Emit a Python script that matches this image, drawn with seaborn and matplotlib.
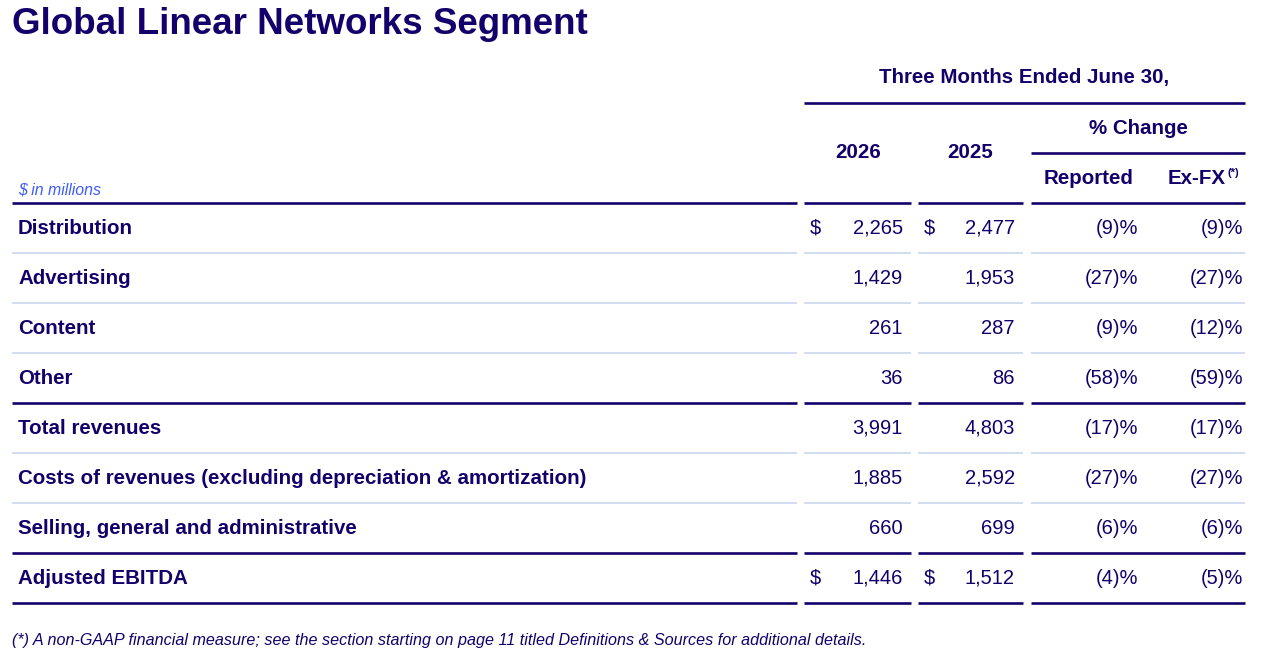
import matplotlib
matplotlib.use("Agg")
import matplotlib.pyplot as plt
import seaborn as sns

sns.set_theme(style="white")
plt.rcParams['font.family'] = ['Liberation Sans', 'DejaVu Sans']

# ---- data ----
title = "Global Linear Networks Segment"
period_header = "Three Months Ended June 30,"
years = ["2026", "2025"]
change_header = "% Change"
change_cols = ["Reported", "Ex-FX"]
units_note = "$ in millions"
row_labels = ["Distribution", "Advertising", "Content", "Other", "Total revenues",
              "Costs of revenues (excluding depreciation & amortization)",
              "Selling, general and administrative", "Adjusted EBITDA"]
values_2026 = [2265, 1429, 261, 36, 3991, 1885, 660, 1446]
values_2025 = [2477, 1953, 287, 86, 4803, 2592, 699, 1512]
reported_pct = [-9, -27, -9, -58, -17, -27, -6, -4]
exfx_pct = [-9, -27, -12, -59, -17, -27, -6, -5]
dollar_rows = [0, 7]
separator_kind = ["light", "light", "light", "dark", "light", "light", "dark", "dark"]
footnote = ("(*) A non-GAAP financial measure; see the section starting on page 11 "
            "titled Definitions & Sources for additional details.")

NAVY = "#13006b"
LIGHT = "#c9d8ec"
BLUE = "#3d5cff"

fig = plt.figure(figsize=(12.62, 6.55), dpi=100)
ax = fig.add_axes([0, 0, 1, 1])
ax.set_xlim(0, 1262)
ax.set_ylim(655, 0)
ax.axis("off")

col_spans = [(12, 797), (804, 911), (918, 1023), (1031, 1245)]

def hline(y, x0, x1, kind):
    if kind == "dark":
        ax.plot([x0, x1], [y, y], color=NAVY, lw=1.9, solid_capstyle="butt")
    else:
        ax.plot([x0, x1], [y, y], color=LIGHT, lw=1.2, solid_capstyle="butt")

FS = 14.8
NFS = 14.5
# title
ax.text(12, 24, title, fontsize=26.5, fontweight="bold", color=NAVY, va="center", ha="left")

# headers
ax.text(1024, 78, period_header, fontsize=FS, fontweight="bold", color=NAVY, ha="center", va="center")
hline(103, 804, 1245, "dark")
ax.text(858, 153, years[0], fontsize=FS, fontweight="bold", color=NAVY, ha="center", va="center")
ax.text(970, 153, years[1], fontsize=FS, fontweight="bold", color=NAVY, ha="center", va="center")
ax.text(1138, 128, change_header, fontsize=FS, fontweight="bold", color=NAVY, ha="center", va="center")
hline(153, 1031, 1245, "dark")
ax.text(1089, 178, change_cols[0], fontsize=FS, fontweight="bold", color=NAVY, ha="center", va="center")
ax.text(1226, 178, change_cols[1], fontsize=FS, fontweight="bold", color=NAVY, ha="right", va="center")
ax.text(1227, 173, "(*)", fontsize=8, fontweight="bold", color=NAVY, ha="left", va="center")
ax.text(18, 190, units_note, fontsize=11.4, style="italic", color=BLUE, ha="left", va="center")

for x0, x1 in col_spans:
    hline(203, x0, x1, "dark")

def pct(v):
    return f"({abs(v)})%" if v < 0 else f"{v}%"

for i, lab in enumerate(row_labels):
    yc = 228 + 50 * i
    ax.text(18, yc, lab, fontsize=FS, fontweight="bold", color=NAVY, ha="left", va="center")
    if i in dollar_rows:
        ax.text(810, yc, "$", fontsize=NFS, color=NAVY, ha="left", va="center")
        ax.text(924, yc, "$", fontsize=NFS, color=NAVY, ha="left", va="center")
    ax.text(903, yc, f"{values_2026[i]:,}", fontsize=NFS, color=NAVY, ha="right", va="center")
    ax.text(1015, yc, f"{values_2025[i]:,}", fontsize=NFS, color=NAVY, ha="right", va="center")
    ax.text(1138, yc, pct(reported_pct[i]), fontsize=NFS, color=NAVY, ha="right", va="center")
    ax.text(1243, yc, pct(exfx_pct[i]), fontsize=NFS, color=NAVY, ha="right", va="center")
    ysep = 253 + 50 * i
    for x0, x1 in col_spans:
        hline(ysep, x0, x1, separator_kind[i])

ax.text(12, 641, footnote, fontsize=11.6, style="italic", color=NAVY, ha="left", va="center")

fig.savefig("out.png", dpi=100)
